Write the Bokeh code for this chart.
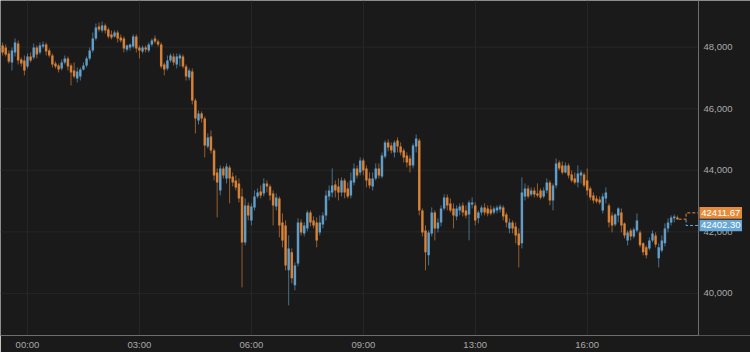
import pandas as pd
from bokeh.plotting import figure
from bokeh.models import ColumnDataSource, Range1d, FixedTicker, NumeralTickFormatter
from bokeh.core.properties import value
from bokeh.embed import file_html
from bokeh.resources import INLINE

# ---- data (5-minute bars, index 0 = 00:00) ----
bar_index = list(range(-8, 210))
tick_positions = [0, 36, 72, 108, 144, 180]
tick_labels = ["00:00", "03:00", "06:00", "09:00", "13:00", "16:00"]
price_ticks = [40000, 42000, 44000, 46000, 48000]
last_price = 42411.67
ref_price = 42402.30

opens = [
    48055, 47990, 47795, 47503, 47828, 48120, 47600, 47568, 47373, 47698,
    47665, 47990, 47828, 48022, 48087, 47892, 47730, 47470, 47405, 47308,
    47503, 47633, 47405, 47243, 46983, 47048, 47276, 47405, 47633, 47892,
    48282, 48672, 48542, 48704, 48574, 48412, 48347, 48477, 48315, 48282,
    47925, 47990, 48022, 48347, 47990, 47860, 47990, 47892, 48087, 48282,
    48185, 48087, 47438, 47308, 47568, 47698, 47438, 47633, 47698, 47373,
    47016, 47211, 46269, 45620, 45847, 45684, 44775, 45100, 44646, 43931,
    43347, 44061, 43736, 44094, 43801, 43671, 43574, 43152, 41658, 42860,
    42373, 42795, 43152, 43314, 43249, 43574, 43477, 43249, 42827, 43087,
    42308, 42210, 40749, 41334, 40262, 40976, 42308, 41950, 42113, 42632,
    42373, 42308, 41983, 42243, 42535, 43152, 43282, 43541, 43477, 43282,
    43671, 43412, 43184, 43606, 44061, 43931, 44321, 44061, 43736, 43477,
    43736, 44061, 43801, 44451, 44905, 44808, 44581, 44970, 44775, 44646,
    44483, 44386, 44159, 44775, 44970, 42697, 42048, 41236, 41950, 42632,
    42113, 42308, 42762, 43119, 42925, 42762, 42502, 42697, 42860, 42697,
    42567, 42892, 42860, 42438, 42632, 42795, 42762, 42730, 42632, 42697,
    42730, 42795, 42567, 42113, 42308, 42178, 41950, 41626, 43152, 43412,
    43217, 43347, 43249, 43347, 43152, 43347, 43606, 43022, 43509, 44256,
    44159, 43931, 44159, 43866, 43736, 43606, 43834, 43866, 43671, 43412,
    43184, 43087, 43054, 42697, 43087, 42860, 42535, 42243, 42535, 42632,
    42275, 41723, 42048, 41853, 42048, 41983, 41626, 41496, 41463, 41723,
    41885, 41139, 41398, 41626, 42113, 42308, 42438, 42470,
]
highs = [
    48152, 48087, 47892, 47990, 48282, 48217, 47665, 47730, 47795, 47828,
    48120, 48055, 48152, 48185, 48152, 47957, 47795, 47535, 47470, 47600,
    47730, 47698, 47470, 47503, 47340, 47340, 47503, 47698, 47990, 48477,
    48769, 48802, 48834, 48769, 48639, 48542, 48542, 48542, 48412, 48347,
    48087, 48120, 48412, 48412, 48055, 48055, 48055, 48152, 48282, 48380,
    48250, 48152, 47503, 47730, 47795, 47795, 47795, 47795, 47763, 47438,
    47308, 47308, 46334, 45944, 45912, 45749, 45198, 45295, 44710, 44061,
    44159, 44126, 44224, 44159, 43931, 43834, 43736, 43412, 43087, 42957,
    42925, 43347, 43412, 43509, 43736, 43671, 43541, 43347, 43249, 43152,
    42600, 42373, 41885, 41463, 41009, 42438, 42405, 42308, 42697, 42697,
    42502, 42470, 42535, 42632, 43347, 43509, 44061, 43671, 43736, 43769,
    43736, 43606, 43931, 44224, 44159, 44418, 44386, 44159, 43931, 43931,
    44224, 44224, 44581, 44970, 45003, 44905, 44970, 45068, 44905, 44710,
    44581, 44483, 44873, 45165, 45035, 42762, 42210, 42048, 42795, 42697,
    42438, 42860, 43217, 43217, 43087, 42925, 42860, 42925, 42957, 42860,
    43022, 43119, 42957, 42697, 42860, 42925, 42860, 42860, 42827, 42860,
    42892, 42860, 42632, 42438, 42373, 42308, 42113, 43769, 43574, 43509,
    43444, 43444, 43574, 43412, 43444, 43736, 43671, 43574, 44386, 44321,
    44289, 44256, 44224, 43996, 43931, 44159, 43996, 43931, 44061, 43477,
    43282, 43184, 43152, 43249, 43444, 42925, 42632, 42600, 42795, 42762,
    42308, 42048, 42113, 42145, 42600, 42048, 41658, 41561, 41821, 42048,
    41983, 41626, 41885, 42275, 42438, 42535, 42567, 42530,
]
lows = [
    47730, 47698, 47470, 47243, 47698, 47438, 47373, 47081, 47308, 47503,
    47600, 47633, 47763, 47957, 47730, 47665, 47340, 47308, 47178, 47243,
    47438, 47243, 46756, 46983, 46853, 46918, 47243, 47340, 47568, 47828,
    48217, 48509, 48477, 48444, 48282, 48250, 48315, 48152, 48152, 47828,
    47860, 47892, 47957, 47828, 47633, 47795, 47828, 47828, 48022, 48120,
    48022, 47308, 47081, 47243, 47503, 47405, 47308, 47373, 47308, 46918,
    46918, 46139, 45198, 45490, 45555, 44418, 44710, 44548, 43671, 42470,
    43184, 43736, 43574, 42925, 43477, 43347, 42957, 40197, 41561, 42373,
    42210, 42697, 43087, 43087, 43152, 43282, 43022, 42210, 42697, 41821,
    41496, 40749, 39613, 40327, 40100, 40879, 41885, 41853, 42015, 42178,
    42113, 41496, 41885, 42113, 42373, 43022, 43119, 43119, 43022, 43152,
    43087, 43087, 43087, 43509, 43736, 43834, 43834, 43444, 43412, 43347,
    43671, 43736, 43736, 44386, 44613, 44548, 44418, 44581, 44483, 44256,
    44094, 43931, 44061, 44581, 42535, 41853, 40749, 40911, 41853, 41723,
    41983, 42178, 42697, 42697, 42632, 42113, 42373, 42535, 42502, 42438,
    41723, 42762, 42210, 42275, 42535, 42535, 42502, 42535, 42567, 42600,
    42632, 42373, 42145, 41950, 41950, 41626, 40846, 41463, 43022, 43087,
    43152, 43119, 43119, 43054, 43087, 43249, 42860, 42697, 43412, 43996,
    43866, 43899, 43736, 43606, 43541, 43444, 43574, 43444, 43184, 43022,
    42925, 42925, 42892, 42600, 42925, 42145, 41983, 42178, 42308, 41983,
    41788, 41561, 41723, 41788, 41983, 41496, 41236, 41139, 41398, 41658,
    41496, 40846, 41334, 41528, 41983, 42210, 42308, 42380,
]
closes = [
    47828, 47763, 47535, 47892, 48152, 47568, 47470, 47243, 47698, 47568,
    47990, 47763, 48055, 48087, 47860, 47730, 47438, 47373, 47276, 47503,
    47633, 47373, 47178, 47048, 47211, 47276, 47405, 47633, 47892, 48282,
    48639, 48574, 48704, 48542, 48347, 48315, 48477, 48282, 48217, 47957,
    48055, 48087, 48347, 47957, 47892, 47990, 47925, 48087, 48217, 48185,
    48087, 47373, 47276, 47568, 47730, 47503, 47698, 47730, 47373, 47048,
    47243, 46269, 45684, 45847, 45684, 44808, 45068, 44646, 43834, 43606,
    44061, 43834, 44126, 43736, 43606, 43444, 43087, 41658, 42860, 42535,
    42827, 43152, 43282, 43184, 43574, 43477, 43184, 42860, 43119, 42210,
    41723, 40911, 41463, 40489, 40911, 42308, 41983, 42210, 42632, 42308,
    42210, 41723, 42308, 42535, 43184, 43347, 43509, 43347, 43282, 43671,
    43282, 43152, 43671, 44061, 43834, 44321, 43996, 43671, 43509, 43736,
    44061, 43834, 44483, 44905, 44743, 44646, 44905, 44775, 44581, 44418,
    44256, 44159, 44808, 45035, 42697, 41983, 41334, 41983, 42632, 42113,
    42308, 42762, 43119, 42860, 42697, 42535, 42762, 42827, 42632, 42535,
    42957, 42957, 42373, 42632, 42795, 42632, 42600, 42600, 42762, 42795,
    42827, 42502, 42308, 42308, 42113, 41885, 41561, 43282, 43412, 43152,
    43347, 43217, 43184, 43119, 43347, 43606, 43022, 43509, 44224, 44061,
    43931, 44159, 43834, 43671, 43606, 43899, 43931, 43509, 43347, 43119,
    43022, 42989, 42957, 43152, 43282, 42308, 42210, 42567, 42762, 42210,
    41885, 41983, 41853, 42080, 42373, 41561, 41334, 41236, 41723, 41950,
    41593, 41496, 41723, 42113, 42308, 42470, 42502, 42411.67,
]

# ---- styling ----
BG = "#1a1a1a"
GRID = "#262626"
AXIS = "#6e6e6e"
LABEL = "#a9a9a9"
UP = "#68a8d6"
DOWN = "#e68b3a"
FONT = "Liberation Sans"
FONT_SIZE = "9.5px"

n = min(len(bar_index), len(opens), len(highs), len(lows), len(closes))
df = pd.DataFrame({
    "x": bar_index[:n], "open": opens[:n], "high": highs[:n],
    "low": lows[:n], "close": closes[:n],
})
df["top"] = df[["open", "close"]].max(axis=1)
df["bottom"] = df[["open", "close"]].min(axis=1)
up = ColumnDataSource(df[df["close"] >= df["open"]])
dn = ColumnDataSource(df[df["close"] < df["open"]])

# plotting area edges (data units); the price-axis strip lies beyond x1
x0, x1, x_end = -8.68, 215.8, 232.52
y0, y1 = 38633, 49516
p = figure(width=750, height=352, output_backend="svg", toolbar_location=None,
           x_range=Range1d(x0, x_end), y_range=Range1d(y0, y1),
           y_axis_location="right",
           min_border_left=0, min_border_top=0, min_border_right=0,
           min_border_bottom=17)
p.background_fill_color = BG
p.border_fill_color = BG
p.outline_line_color = None

# horizontal grid lines only across the plotting area
p.ygrid.visible = False
p.segment(x0=[x0] * len(price_ticks), y0=price_ticks,
          x1=[x1] * len(price_ticks), y1=price_ticks,
          line_color=GRID, line_width=1, level="underlay")
p.xgrid.ticker = FixedTicker(ticks=tick_positions)
p.xgrid.grid_line_color = GRID

for src, col in ((up, UP), (dn, DOWN)):
    p.segment(x0="x", y0="low", x1="x", y1="high", source=src,
              line_color=col, line_alpha=0.6, line_width=1)
    p.vbar(x="x", top="top", bottom="bottom", width=0.8, source=src,
           fill_color=col, fill_alpha=0.88, line_color=None)

# last-price guide lines
x_last = df["x"].iloc[-1]
x_brk = x_last + 2.8
up_lvl = last_price + 205
dn_lvl = ref_price - 195
p.line([x_last + 0.4, x_brk, x_brk, x1], [last_price, last_price, up_lvl, up_lvl],
       line_color=DOWN, line_dash="3 2", line_width=1)
p.line([x_brk, x_brk, x1], [ref_price, dn_lvl, dn_lvl],
       line_color=UP, line_dash="3 2", line_width=1)

# price tags in the axis strip
tag_left = x1 + 0.3
tag_right = x1 + 14.0
tag_half = 190
tags = ColumnDataSource(dict(
    y=[up_lvl, dn_lvl],
    text=[f"{last_price:.2f}", f"{ref_price:.2f}"],
    color=[DOWN, UP],
))
p.rect(x=(tag_left + tag_right) / 2, y="y", width=tag_right - tag_left,
       height=2 * tag_half, source=tags, fill_color="color", line_color=None,
       level="overlay")
p.text(x=(tag_left + tag_right) / 2, y="y", text="text", source=tags,
       text_color="white", text_font=value(FONT), text_font_size=FONT_SIZE,
       text_align="center", text_baseline="middle", level="overlay")

# axes
p.xaxis.ticker = FixedTicker(ticks=tick_positions)
p.xaxis.major_label_overrides = {t: l for t, l in zip(tick_positions, tick_labels)}
p.xaxis.bounds = (x0, x1)
p.yaxis.fixed_location = x1
p.yaxis.ticker = FixedTicker(ticks=price_ticks)
p.yaxis.formatter = NumeralTickFormatter(format="0,0")
for ax in (p.xaxis, p.yaxis):
    ax.axis_line_color = AXIS
    ax.axis_line_width = 1
    ax.major_tick_line_color = None
    ax.minor_tick_line_color = None
    ax.major_tick_out = 0
    ax.minor_tick_out = 0
    ax.major_tick_in = 0
    ax.minor_tick_in = 0
    ax.major_label_text_color = LABEL
    ax.major_label_text_font = FONT
    ax.major_label_text_font_size = FONT_SIZE
p.xaxis.major_label_standoff = 3
p.yaxis.major_label_standoff = 5

open("out.html", "w").write(file_html(p, INLINE))
